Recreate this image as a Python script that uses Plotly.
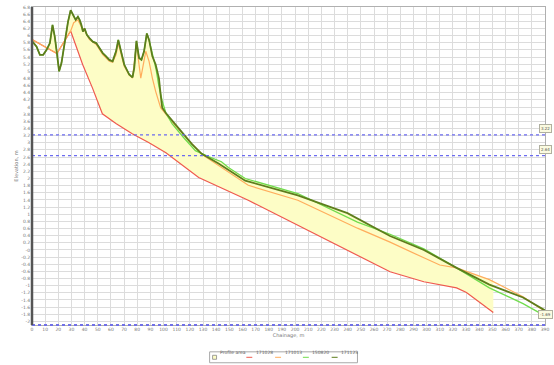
import numpy as np
import plotly.graph_objects as go

# ---- profile series (chainage, elevation) ----
red_x = [0, 18.9, 29.4, 38.5, 46.0, 53.5, 64.1, 76.2, 89.0, 101.8, 126.7, 164.4, 202.1,
         239.8, 272.2, 297.9, 322.8, 330.3, 350.7]
red_y = [5.89, 5.50, 6.13, 5.19, 4.53, 3.81, 3.53, 3.25, 3.00, 2.72, 2.03, 1.39, 0.69,
         0.00, -0.61, -0.89, -1.06, -1.19, -1.75]

orange_x = [0, 18.9, 29.4, 31.7, 34.9, 37.5, 40.0, 43.7, 48.8, 53.8, 58.8, 61.3, 63.9, 65.6,
            67.6, 70.1, 73.9, 76.4, 79.4, 82.7, 86.5, 89.0, 91.5, 94.0, 97.8, 101.6, 107.8,
            119.2, 130.5, 164.4, 202.1, 247.4, 272.2, 297.9, 310.0, 322.8, 347.7, 373.3, 390.0]
orange_y = [5.89, 5.50, 6.13, 6.36, 6.44, 6.25, 6.14, 5.89, 5.75, 5.47, 5.28, 5.25, 5.47, 5.78,
            5.50, 5.14, 4.89, 4.81, 5.75, 4.81, 5.56, 5.28, 4.81, 4.44, 3.98, 3.81, 3.53,
            3.06, 2.64, 1.81, 1.39, 0.61, 0.22, -0.22, -0.42, -0.50, -0.83, -1.31, -1.72]

green_x = [0, 3.5, 6.0, 8.5, 11.1, 13.6, 15.6, 17.3, 19.1, 20.6, 22.4, 24.9, 27.4, 29.4, 31.1,
           33.2, 34.9, 36.2, 37.5, 38.7, 40.0, 41.7, 43.7, 46.2, 48.8, 51.3, 53.8, 56.3, 58.8,
           61.3, 63.9, 65.6, 67.6, 70.1, 73.9, 76.4, 77.7, 79.4, 81.4, 83.2, 85.2, 87.3, 89.0,
           91.5, 94.3, 96.5, 99.0, 101.8, 106.6, 115.4, 124.2, 134.2, 144.0, 149.3, 162.1,
           202.1, 247.4, 272.2, 297.9, 322.8, 347.7, 373.3, 386.9]
green_y = [5.85, 5.69, 5.46, 5.46, 5.60, 5.79, 6.30, 5.97, 5.46, 5.00, 5.23, 5.83, 6.39, 6.71,
           6.57, 6.44, 6.53, 6.44, 6.30, 6.11, 6.20, 6.02, 5.93, 5.83, 5.79, 5.65, 5.51, 5.42,
           5.32, 5.28, 5.56, 5.88, 5.56, 5.19, 4.91, 4.83, 5.09, 5.85, 5.37, 5.32, 5.56, 6.06,
           5.88, 5.50, 5.06, 4.58, 4.17, 3.83, 3.53, 3.14, 2.78, 2.61, 2.47, 2.31, 2.00,
           1.58, 0.78, 0.44, 0.03, -0.50, -1.06, -1.50, -1.78]

dark_x = [0, 3.5, 6.0, 8.5, 11.1, 13.6, 15.6, 17.3, 19.1, 20.6, 22.4, 24.9, 27.4, 29.4, 31.1,
          33.2, 34.9, 36.2, 37.5, 38.7, 40.0, 41.7, 43.7, 46.2, 48.8, 51.3, 53.8, 56.3, 58.8,
          61.3, 63.9, 65.6, 67.6, 70.1, 73.9, 76.4, 77.7, 79.4, 81.4, 83.2, 85.2, 87.3, 89.0,
          91.5, 94.0, 96.5, 97.8, 99.0, 101.6, 106.6, 114.1, 121.6, 129.0, 141.8, 162.1,
          202.1, 239.8, 272.2, 297.9, 322.8, 347.7, 373.3, 390.0]
dark_y = [5.85, 5.69, 5.46, 5.46, 5.60, 5.79, 6.30, 5.97, 5.46, 5.00, 5.23, 5.83, 6.39, 6.71,
          6.57, 6.44, 6.53, 6.44, 6.30, 6.11, 6.20, 6.02, 5.93, 5.83, 5.79, 5.65, 5.51, 5.42,
          5.32, 5.28, 5.56, 5.88, 5.56, 5.19, 4.91, 4.83, 5.09, 5.85, 5.37, 5.32, 5.56, 6.06,
          5.88, 5.42, 5.19, 4.81, 4.35, 3.98, 3.84, 3.61, 3.29, 2.96, 2.69, 2.42, 1.94,
          1.53, 1.03, 0.39, 0.00, -0.50, -0.97, -1.33, -1.69]

series_names = ["171028", "171013", "150820", "171123"]
series_colors = ["#ef5a4e", "#ffad5c", "#6fdc4c", "#5d7d1c"]
area_name = "Profile area"

limit_levels = [3.22, 2.64]
limit_labels = ["3.22", "2.64"]

x_range = [0, 390]
y_range = [-2.1, 6.8]
x_ticks = list(range(0, 391, 10))
y_ticks = [round(v, 1) for v in np.arange(-2.0, 6.81, 0.2)]

# ---- filled band between the lowest profile and the upper envelope ----
band_x = np.linspace(0, red_x[-1], 900)
upper = np.max(np.vstack([np.interp(band_x, orange_x, orange_y),
                          np.interp(band_x, green_x, green_y),
                          np.interp(band_x, dark_x, dark_y)]), axis=0)
lower = np.interp(band_x, red_x, red_y)

fig = go.Figure()
fig.add_trace(go.Scatter(
    x=np.concatenate([band_x, band_x[::-1]]),
    y=np.concatenate([upper, lower[::-1]]),
    fill="toself", fillcolor="#fdfdc6", line=dict(width=0),
    mode="lines", name=area_name, hoverinfo="skip"))

profiles = [(red_x, red_y), (orange_x, orange_y), (green_x, green_y), (dark_x, dark_y)]
widths = [1.2, 1.2, 1.3, 1.8]
for (px, py), nm, col, w in zip(profiles, series_names, series_colors, widths):
    fig.add_trace(go.Scatter(x=px, y=py, mode="lines", name=nm,
                             line=dict(color=col, width=w)))

# horizontal limit lines
for lv, lb in zip(limit_levels, limit_labels):
    fig.add_shape(type="line", xref="paper", x0=0, x1=1, yref="y", y0=lv, y1=lv,
                  line=dict(color="#6b6bf0", width=1.4, dash="dot"))
    fig.add_annotation(xref="paper", x=1.0, yref="y", y=lv, yshift=6, text=lb,
                       showarrow=False, font=dict(size=4, color="#555"),
                       bgcolor="#fbfbe0", bordercolor="#b0b0a0", borderwidth=1,
                       borderpad=1, xanchor="center")

# baseline along the bottom of the plot
fig.add_shape(type="line", xref="paper", x0=0, x1=1, yref="paper", y0=0, y1=0,
              line=dict(color="#7070e8", width=2.2, dash="dot"))

# tag at the end of the last profile
fig.add_annotation(x=dark_x[-1], y=dark_y[-1], yshift=-4, text=dark_y[-1].__str__(),
                   showarrow=False, font=dict(size=4, color="#555"),
                   bgcolor="#fbfbe0", bordercolor="#b0b0a0", borderwidth=1, borderpad=1)

# ---- hand-drawn compact legend ----
def px2paper_x(p):
    return (p - 32) / 517.0

def py2paper_y(p):
    return (325 - p) / 320.0

fig.add_shape(type="rect", xref="paper", yref="paper",
              x0=px2paper_x(211), x1=px2paper_x(360), y0=py2paper_y(363), y1=py2paper_y(352),
              line=dict(color="#a8a8a8", width=1), fillcolor="white")
fig.add_shape(type="rect", xref="paper", yref="paper",
              x0=px2paper_x(214), x1=px2paper_x(218), y0=py2paper_y(359.5), y1=py2paper_y(355.5),
              line=dict(color="#888", width=0.8), fillcolor="#fdfdc6")
fig.add_annotation(xref="paper", yref="paper", x=px2paper_x(219.5), y=py2paper_y(357.5),
                   text=area_name, showarrow=False, xanchor="left",
                   font=dict(size=4.5, color="#666"))
leg_starts = [248, 277, 305, 334]
for xs, nm, col in zip(leg_starts, series_names, series_colors):
    fig.add_shape(type="line", xref="paper", yref="paper",
                  x0=px2paper_x(xs), x1=px2paper_x(xs + 6),
                  y0=py2paper_y(357.5), y1=py2paper_y(357.5),
                  line=dict(color=col, width=1))
    fig.add_annotation(xref="paper", yref="paper", x=px2paper_x(xs + 7.5),
                       y=py2paper_y(357.5), text=nm, showarrow=False, xanchor="left",
                       font=dict(size=4.5, color="#666"))

fig.update_layout(
    width=554, height=365,
    margin=dict(l=32, r=5, t=5, b=40),
    paper_bgcolor="white", plot_bgcolor="white",
    showlegend=False,
    font=dict(family="DejaVu Sans", size=5, color="#666"),
)
fig.update_xaxes(range=x_range, tickvals=x_ticks, ticktext=[str(v) for v in x_ticks],
                 showgrid=True, gridcolor="#dcdcdc", gridwidth=1,
                 zeroline=False, showline=True, linecolor="#b0b0b0", mirror=True,
                 ticks="", tickfont=dict(size=4.5, color="#777"),
                 title=dict(text="Chainage, m", font=dict(size=5, color="#777"), standoff=2))
fig.update_yaxes(range=y_range, tickvals=y_ticks, ticktext=[f"{v:g}" for v in y_ticks],
                 showgrid=True, gridcolor="#dcdcdc", gridwidth=1,
                 zeroline=False, showline=True, linecolor="#b0b0b0", mirror=True,
                 ticks="", tickfont=dict(size=4.5, color="#777"),
                 title=dict(text="Elevation, m", font=dict(size=5, color="#777"), standoff=2))

# heavier left axis line
fig.add_shape(type="line", xref="paper", yref="paper", x0=0, x1=0, y0=0, y1=1,
              line=dict(color="#555", width=2.5))

fig.write_html("out.html")
